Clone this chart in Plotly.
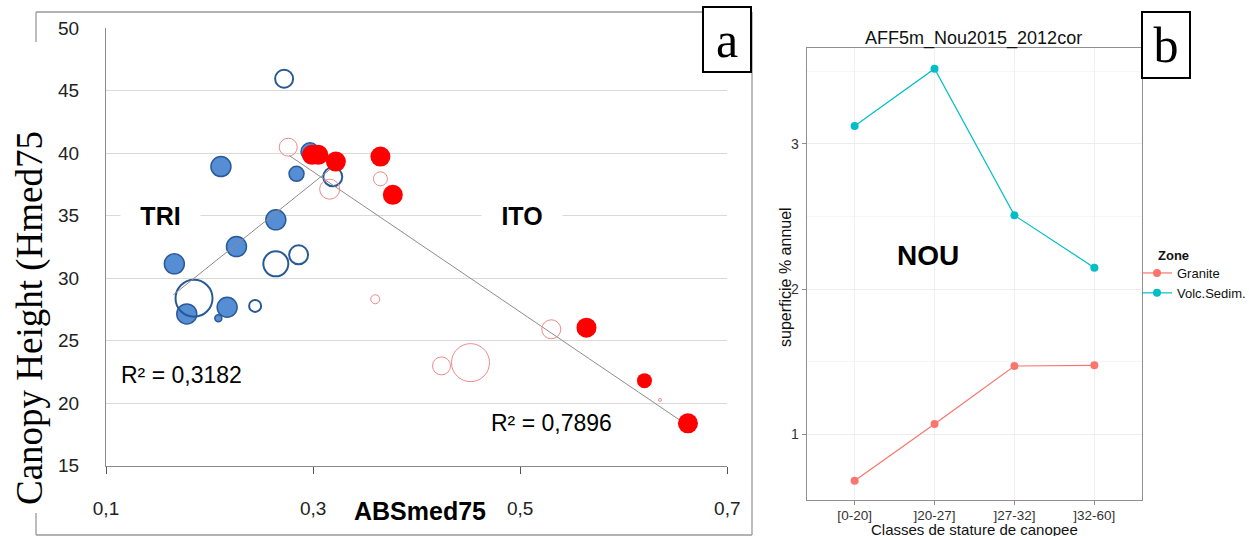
import plotly.graph_objects as go

W, H = 1249, 536

# ---------------- Panel a data ----------------
blue_filled_x = [0.297, 0.211, 0.284, 0.264, 0.226, 0.166, 0.178, 0.217, 0.2085]
blue_filled_y = [40.10, 38.92, 38.34, 34.66, 32.52, 31.14, 27.14, 27.67, 26.79]
blue_filled_s = [18, 20, 15, 20, 20, 20, 20, 20, 7]

blue_open_x = [0.272, 0.319, 0.264, 0.286, 0.185, 0.244]
blue_open_y = [45.94, 38.10, 31.14, 31.86, 28.39, 27.78]
blue_open_s = [18, 19, 25, 19, 37, 12]

red_filled_x = [0.299, 0.305, 0.322, 0.365, 0.377, 0.564, 0.620, 0.662]
red_filled_y = [39.86, 39.86, 39.32, 39.72, 36.66, 26.04, 21.80, 18.39]
red_filled_s = [20, 20, 20, 20, 20, 20, 15, 20]

red_open_x = [0.276, 0.316, 0.365, 0.360, 0.424, 0.452, 0.530, 0.635]
red_open_y = [40.47, 37.11, 37.94, 28.31, 22.98, 23.24, 25.91, 20.26]
red_open_s = [18, 20, 14, 9, 18, 38, 19, 3]

tri_trend_x = [0.165, 0.318]
tri_trend_y = [28.66, 38.80]
ito_trend_x = [0.277, 0.661]
ito_trend_y = [39.80, 18.26]

a_xticks = [0.1, 0.3, 0.5, 0.7]
a_xticklabels = ["0,1", "0,3", "0,5", "0,7"]
a_yticks = [15, 20, 25, 30, 35, 40, 45, 50]

# ---------------- Panel b data ----------------
classes = ["[0-20]", "]20-27]", "]27-32]", "]32-60]"]
granite = [0.678, 1.069, 1.469, 1.474]
volc_sedim = [3.124, 3.519, 2.508, 2.147]

fig = go.Figure()

# Panel a traces
fig.add_trace(go.Scatter(x=blue_filled_x, y=blue_filled_y, mode="markers",
                         marker=dict(size=blue_filled_s, color="#558ED5", opacity=1,
                                     line=dict(color="#2C5A96", width=1.5)),
                         showlegend=False, xaxis="x", yaxis="y"))
fig.add_trace(go.Scatter(x=blue_open_x, y=blue_open_y, mode="markers",
                         marker=dict(size=blue_open_s, color="rgba(0,0,0,0)", opacity=1,
                                     line=dict(color="#2A5A96", width=2)),
                         showlegend=False, xaxis="x", yaxis="y"))
fig.add_trace(go.Scatter(x=tri_trend_x, y=tri_trend_y, mode="lines",
                         line=dict(color="#8C8C8C", width=1),
                         showlegend=False, xaxis="x", yaxis="y"))
fig.add_trace(go.Scatter(x=ito_trend_x, y=ito_trend_y, mode="lines",
                         line=dict(color="#8C8C8C", width=1),
                         showlegend=False, xaxis="x", yaxis="y"))
fig.add_trace(go.Scatter(x=red_open_x, y=red_open_y, mode="markers",
                         marker=dict(size=red_open_s, color="rgba(0,0,0,0)", opacity=1,
                                     line=dict(color="#EE8A8A", width=1)),
                         showlegend=False, xaxis="x", yaxis="y"))
fig.add_trace(go.Scatter(x=red_filled_x, y=red_filled_y, mode="markers",
                         marker=dict(size=red_filled_s, color="#FF0000", opacity=1,
                                     line=dict(width=0)),
                         showlegend=False, xaxis="x", yaxis="y"))

# Panel b traces
fig.add_trace(go.Scatter(x=classes, y=granite, mode="lines+markers", name="Granite",
                         line=dict(color="#F8766D", width=1.2),
                         marker=dict(color="#F8766D", size=8),
                         xaxis="x2", yaxis="y2"))
fig.add_trace(go.Scatter(x=classes, y=volc_sedim, mode="lines+markers", name="Volc.Sedim.",
                         line=dict(color="#00BFC4", width=1.2),
                         marker=dict(color="#00BFC4", size=8),
                         xaxis="x2", yaxis="y2"))

def px_x(p):
    return p / W

def px_y(p):
    return 1 - p / H

a_font = "Liberation Sans, Arial, sans-serif"

fig.update_layout(
    width=W, height=H,
    margin=dict(l=0, r=0, t=0, b=0, autoexpand=False),
    paper_bgcolor="white", plot_bgcolor="white",
    font=dict(family=a_font, color="black"),
    xaxis=dict(domain=[px_x(106), px_x(727.3)], range=[0.1, 0.7], automargin=False,
               tickvals=a_xticks, ticktext=a_xticklabels,
               showgrid=False, zeroline=False,
               showline=True, linecolor="#8A8A8A", linewidth=1.3,
               ticks="outside", ticklen=7, tickcolor="#555", tickwidth=1.3,
               tickfont=dict(size=19, family=a_font, color="#222"),
               ticklabelstandoff=18),
    xaxis3=dict(domain=[px_x(106), px_x(727.3)], range=[0.1, 0.7], overlaying="x",
                anchor="y", tickvals=a_xticks, showticklabels=False, automargin=False,
                showgrid=False, zeroline=False,
                ticks="inside", ticklen=7, tickcolor="#555", tickwidth=1.3),
    yaxis=dict(domain=[px_y(465.7), px_y(28)], range=[15, 50], automargin=False,
               tickvals=a_yticks, showgrid=True, gridcolor="#D9D9D9", gridwidth=1.3,
               zeroline=False, showline=True, linecolor="#8A8A8A", linewidth=1.3,
               ticks="", tickfont=dict(size=19, family=a_font, color="#222"),
               ticklabelstandoff=22),
    xaxis2=dict(domain=[px_x(806.7), px_x(1142.3)], anchor="y2", type="category",
                range=[-0.6, 3.6], showgrid=True, gridcolor="#F0F0F0", gridwidth=1,
                automargin=False,
                showline=True, linecolor="#8F8F8F", linewidth=1, mirror=True,
                ticks="outside", ticklen=4, tickcolor="#8F8F8F",
                tickfont=dict(size=13.5, color="#333"), ticklabelstandoff=-1),
    yaxis2=dict(domain=[px_y(500), px_y(47.7)], anchor="x2", range=[0.545, 3.664],
                automargin=False,
                dtick=1, tick0=0, showgrid=True, gridcolor="#EDEDED", gridwidth=1,
                minor=dict(dtick=0.5, tick0=0, showgrid=True, gridcolor="#F6F6F6", gridwidth=1),
                zeroline=False, showline=True, linecolor="#8F8F8F", linewidth=1, mirror=True,
                ticks="outside", ticklen=4, tickcolor="#8F8F8F",
                tickfont=dict(size=14, color="#333")),
    legend=dict(x=px_x(1137), y=px_y(258), xanchor="left", yanchor="top",
                font=dict(size=13, color="#111"), bgcolor="rgba(0,0,0,0)",
                itemwidth=30, tracegroupgap=0),
    showlegend=True,
)

shape_line = dict(color="#9A9A9A", width=1.3)
shapes = [
    dict(type="line", xref="paper", yref="paper", x0=px_x(36), x1=px_x(752), y0=px_y(12), y1=px_y(12), line=shape_line),
    dict(type="line", xref="paper", yref="paper", x0=px_x(36), x1=px_x(752), y0=px_y(535), y1=px_y(535), line=shape_line),
    dict(type="line", xref="paper", yref="paper", x0=px_x(752), x1=px_x(752), y0=px_y(12), y1=px_y(535), line=shape_line),
    dict(type="line", xref="paper", yref="paper", x0=px_x(36), x1=px_x(36), y0=px_y(12), y1=px_y(42), line=shape_line),
    dict(type="line", xref="paper", yref="paper", x0=px_x(36), x1=px_x(36), y0=px_y(513), y1=px_y(535), line=shape_line),
]
fig.update_layout(shapes=shapes)

annotations = [
    dict(text="Canopy Height (Hmed75", x=px_x(30), y=px_y(318), xref="paper", yref="paper",
         textangle=-90, showarrow=False, xanchor="center", yanchor="middle",
         font=dict(family="Liberation Serif, Times New Roman, serif", size=37, color="black")),
    dict(text="<b>ABSmed75</b>", x=px_x(420), y=px_y(511), xref="paper", yref="paper",
         showarrow=False, xanchor="center", yanchor="middle",
         font=dict(size=25, color="black")),
    dict(text="<b>TRI</b>", x=0.1 + (160 - 106) / 1035.5, y=35, xref="x", yref="y",
         showarrow=False, bgcolor="white", width=77, height=22,
         font=dict(size=25, color="black")),
    dict(text="<b>ITO</b>", x=0.1 + (522 - 106) / 1035.5, y=35, xref="x", yref="y",
         showarrow=False, bgcolor="white", width=78, height=22,
         font=dict(size=25, color="black")),
    dict(text="R² = 0,3182", x=px_x(119), y=px_y(375), xref="paper", yref="paper",
         showarrow=False, xanchor="left", yanchor="middle",
         font=dict(size=23, color="black")),
    dict(text="R² = 0,7896", x=px_x(489), y=px_y(423), xref="paper", yref="paper",
         showarrow=False, xanchor="left", yanchor="middle",
         font=dict(size=23, color="black")),
    dict(text="a", x=px_x(726.7), y=px_y(39.2), xref="paper", yref="paper",
         showarrow=False, xanchor="center", yanchor="middle",
         width=46, height=63, bgcolor="white", bordercolor="black", borderwidth=2, borderpad=0,
         font=dict(family="Liberation Serif, Times New Roman, serif", size=50, color="black")),
    dict(text="b", x=px_x(1165.7), y=px_y(44.5), xref="paper", yref="paper",
         showarrow=False, xanchor="center", yanchor="middle",
         width=46, height=64, bgcolor="white", bordercolor="black", borderwidth=2, borderpad=0,
         font=dict(family="Liberation Serif, Times New Roman, serif", size=50, color="black")),
    dict(text="AFF5m_Nou2015_2012cor", x=px_x(973), y=px_y(38), xref="paper", yref="paper",
         showarrow=False, xanchor="center", yanchor="middle",
         font=dict(size=18, color="#111")),
    dict(text="<b>NOU</b>", x=px_x(928), y=px_y(255), xref="paper", yref="paper",
         showarrow=False, xanchor="center", yanchor="middle",
         font=dict(size=28, color="black")),
    dict(text="superficie % annuel", x=px_x(785), y=px_y(277), xref="paper", yref="paper",
         textangle=-90, showarrow=False, xanchor="center", yanchor="middle",
         font=dict(size=16, color="#111")),
    dict(text="Classes de stature de canopee", x=px_x(974), y=px_y(529), xref="paper", yref="paper",
         showarrow=False, xanchor="center", yanchor="middle",
         font=dict(size=15, color="#111")),
    dict(text="<b>Zone</b>", x=px_x(1156), y=px_y(255), xref="paper", yref="paper",
         showarrow=False, xanchor="left", yanchor="middle",
         font=dict(size=13, color="#111")),
]
fig.update_layout(annotations=annotations)

fig.write_html("out.html", config={"displayModeBar": False},
               post_script="document.body.style.margin='0';document.body.style.padding='0';")
